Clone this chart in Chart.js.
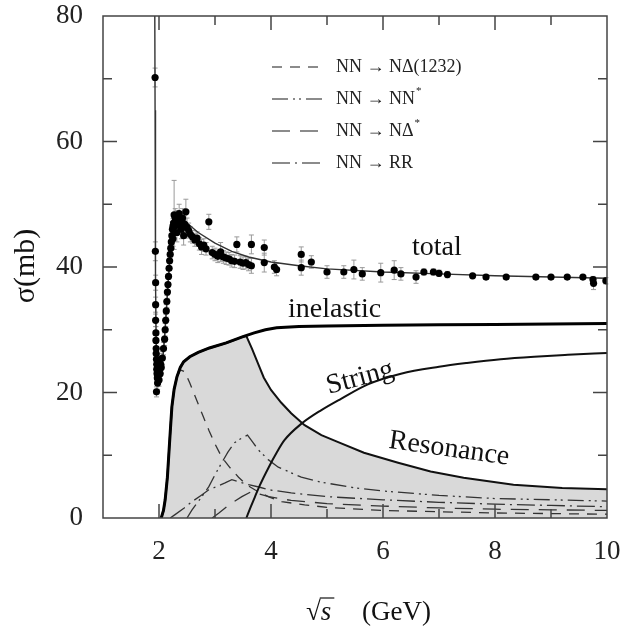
<!DOCTYPE html>
<html>
<head>
<meta charset="utf-8">
<script src="https://cdn.jsdelivr.net/npm/chart.js@4.4.0/dist/chart.umd.min.js"></script>
<style>
  html, body { margin: 0; padding: 0; background: #fff; }
  #wrap { width: 622px; height: 637px; }
</style>
</head>
<body>
<div id="wrap"><canvas id="c"></canvas></div>
<script>
// measured data points (sqrt(s) in GeV, sigma in mb, error)
const ptX = [1.93,1.935,1.94,1.94,1.94,1.945,1.945,1.95,1.95,1.955,
  1.96,1.96,1.965,1.97,1.975,1.955,1.98,1.99,2.0,2.01,
  2.02,2.03,2.04,2.06,2.08,2.1,2.11,2.12,2.13,2.14,
  2.15,2.16,2.17,2.18,2.19,2.2,2.21,2.22,2.23,2.24,
  2.25,2.25,2.26,2.27,2.29,2.3,2.32,2.33,2.35,2.36,
  2.38,2.4,2.42,2.44,2.46,2.48,2.5,2.53,2.56,2.6,
  2.64,2.68,2.72,2.76,2.8,2.84,2.89,2.95,3.0,3.05,
  3.1,3.15,3.2,3.25,3.3,3.35,3.39,3.45,3.5,3.55,
  3.6,3.65,3.65,3.88,3.88,4.06,4.1,4.54,4.54,4.72,
  5.0,5.3,5.48,5.63,5.96,6.2,6.32,6.59,6.73,6.9,
  7.0,7.15,7.6,7.84,8.2,8.73,9.0,9.29,9.57,9.75,
  9.76,9.98];
const ptY = [70.2,42.5,37.5,34.0,31.5,29.5,28.3,27.0,26.2,25.3,
  24.5,23.7,23.0,22.3,21.5,20.1,22.8,24.0,22.0,25.2,
  23.0,24.5,24.0,25.5,27.0,28.5,30.0,31.5,33.0,34.5,
  36.0,37.2,38.5,39.8,41.0,42.0,43.0,44.0,45.0,46.0,
  44.5,46.5,47.0,48.3,47.8,46.6,45.5,47.5,46.8,48.5,
  47.2,46.0,47.8,45.0,46.8,48.8,46.3,45.8,45.2,44.8,
  44.3,44.6,43.7,43.2,43.5,42.9,47.2,42.3,42.0,41.7,
  42.4,41.6,41.4,41.3,41.0,40.9,43.6,40.8,40.6,40.7,
  40.4,43.6,40.2,43.1,40.7,40.0,39.6,42.0,39.9,40.8,
  39.2,39.2,39.6,38.9,39.1,39.5,38.9,38.4,39.2,39.2,
  39.0,38.8,38.6,38.4,38.4,38.4,38.4,38.4,38.4,38.0,
  37.4,37.8];
const ptErr = [1.5,1.5,1.2,1.2,1.0,1.0,1.0,1.0,1.0,1.0,
  1.0,1.0,1.0,1.0,1.0,0.8,1.0,1.0,1.0,1.0,
  1,1,1,1,1,1,1,1,1,1,
  1,1,1,1,1,1,1,1,1,1.2,
  1.2,1.2,1.5,5.5,1.5,1.5,1.5,1.5,1.5,1.5,
  1.5,1.5,1.5,1.5,1.5,2.0,1.5,1.2,1.2,1.0,
  1.0,1.0,1.0,1.2,1.0,1.0,1.2,1.0,1.0,1.0,
  1.5,1.0,1.0,1.0,1.0,1.0,1.2,1.0,1.0,1.0,
  1.0,1.5,1.2,1.2,1.5,1.0,1.0,1.2,1.2,1.0,
  1.0,1.0,1.5,1.0,1.5,1.5,1.0,1.0,0.5,0.5,
  0.5,0.5,0.3,0.3,0.3,0.3,0.3,0.3,0.3,0.5,
  1.0,0.5];

// model curves
const totX = [1.925,1.93,1.935,1.94,1.95,1.97,2.0,2.04,2.08,2.12,2.16,2.2,2.25,2.3,2.4,2.5,2.7,3.0,3.3,3.6,4.0,4.5,5,6,7,8,9,10];
const totY = [80,65,50,38,28,23,21.5,23.5,26.5,31.5,37,42,46,47.5,48,47,45.5,43.8,42.5,41.6,40.8,40.2,39.7,39.2,38.9,38.6,38.4,38.2];

const inelX = [2.04,2.08,2.11,2.15,2.18,2.21,2.23,2.27,2.32,2.38,2.44,2.55,2.7,2.9,3.2,3.5,3.7,3.9,4.1,4.5,5,6,7,8,9,10];
const inelY = [0,1.2,2.9,6.5,10.8,15,17.7,20.5,22.5,24,24.9,25.7,26.4,27.1,27.9,28.9,29.5,30.0,30.3,30.5,30.6,30.7,30.8,30.85,30.9,31.0];

const resX = [2.04,2.08,2.11,2.15,2.18,2.21,2.23,2.27,2.32,2.38,2.44,2.55,2.7,2.9,3.2,3.5,3.56,3.66,3.76,3.87,4.0,4.18,4.36,4.6,4.9,5.2,5.66,6.27,6.85,7.44,8.33,9.2,10];
const resY = [0,1.2,2.9,6.5,10.8,15,17.7,20.5,22.5,24,24.9,25.7,26.4,27.1,27.9,28.9,29.0,27.0,24.8,22.4,20.4,18.4,16.7,14.8,13.2,12.1,10.4,8.8,7.4,6.4,5.3,4.8,4.6];

const strX = [3.56,3.64,3.71,3.8,3.96,4.1,4.24,4.54,4.9,5.25,5.73,6.32,7.0,7.5,8.1,8.7,9.3,10];
const strY = [0,1.8,3.3,5.2,8.1,10.4,12.4,15.0,17.2,19.0,21.3,23.0,24.1,24.7,25.3,25.7,26.0,26.3];

const deltaX = [2.04,2.08,2.11,2.15,2.18,2.21,2.23,2.27,2.32,2.38,2.46,2.55,2.65,2.77,2.89,3.0,3.12,3.27,3.42,3.56,3.71,3.95,4.19,4.6,5,6,7,8,9,10];
const deltaY = [0,1.2,2.9,6.5,10.8,15,17.7,20.5,22.4,23.6,23.3,21.5,19.3,16.6,14.0,11.8,9.7,8.0,6.5,5.3,4.5,3.4,2.6,2.1,1.7,1.2,1.0,0.8,0.7,0.6];

const nstarX = [2.5,2.59,2.75,2.89,3.0,3.12,3.23,3.35,3.47,3.58,3.68,3.78,3.95,4.13,4.54,4.9,5.5,6,7,8,9,10];
const nstarY = [0,1.3,3.2,5.0,6.9,8.8,10.5,12.0,12.7,13.2,12.0,10.8,9.3,8.1,6.5,5.7,4.8,4.3,3.6,3.1,2.9,2.7];

const rrX = [2.2,2.28,2.45,2.59,2.75,2.89,3.05,3.18,3.3,3.45,3.6,3.8,3.96,4.36,5,6,7,8,9,10];
const rrY = [0,0.5,1.6,2.6,3.6,4.5,5.1,5.6,6.1,5.7,5.3,4.9,4.5,4.0,3.4,2.9,2.5,2.2,2.0,1.8];

const dstarX = [2.95,3.07,3.25,3.48,3.65,3.8,3.96,4.36,5,6,7,8,9,10];
const dstarY = [0,0.8,2.1,3.4,4.2,3.8,3.4,2.8,2.3,1.9,1.6,1.4,1.3,1.2];

const xTicks = [2, 4, 6, 8, 10];
const yTicks = [0, 20, 40, 60, 80];

const legendItems = [
  { pre: 'NN \u2192 N\u0394(1232)', sup: '', dash: [10, 8] },
  { pre: 'NN \u2192 NN', sup: '*', dash: [16, 5, 2, 4, 2, 5] },
  { pre: 'NN \u2192 N\u0394', sup: '*', dash: [18, 10] },
  { pre: 'NN \u2192 RR', sup: '', dash: [18, 5, 2, 5] }
];

const pts = (xs, ys) => xs.map((x, i) => ({ x: x, y: ys[i] }));
const SERIF = '"Liberation Serif", "DejaVu Serif", serif';

const decor = {
  id: 'decor',
  beforeDatasetsDraw(chart) {
    const ctx = chart.ctx, sx = chart.scales.x, sy = chart.scales.y;
    ctx.save();
    ctx.strokeStyle = '#9a9a9a';
    ctx.lineWidth = 1;
    ptX.forEach((x, i) => {
      const px = sx.getPixelForValue(x);
      const y1 = sy.getPixelForValue(ptY[i] - ptErr[i]);
      const y2 = sy.getPixelForValue(ptY[i] + ptErr[i]);
      ctx.beginPath();
      ctx.moveTo(px, y1); ctx.lineTo(px, y2);
      ctx.moveTo(px - 2.5, y1); ctx.lineTo(px + 2.5, y1);
      ctx.moveTo(px - 2.5, y2); ctx.lineTo(px + 2.5, y2);
      ctx.stroke();
    });
    ctx.restore();
  },
  afterDraw(chart) {
    const ctx = chart.ctx, sx = chart.scales.x, sy = chart.scales.y, a = chart.chartArea;
    ctx.save();
    // frame + inward ticks
    ctx.strokeStyle = '#444';
    ctx.lineWidth = 1.5;
    ctx.strokeRect(a.left, a.top, a.right - a.left, a.bottom - a.top);
    ctx.beginPath();
    for (let v = 2; v < 10; v++) {
      const px = sx.getPixelForValue(v), len = v % 2 === 0 ? 14 : 9;
      ctx.moveTo(px, a.bottom); ctx.lineTo(px, a.bottom - len);
      ctx.moveTo(px, a.top); ctx.lineTo(px, a.top + len);
    }
    for (let v = 10; v < 80; v += 10) {
      const py = sy.getPixelForValue(v), len = v % 20 === 0 ? 14 : 9;
      ctx.moveTo(a.left, py); ctx.lineTo(a.left + len, py);
      ctx.moveTo(a.right, py); ctx.lineTo(a.right - len, py);
    }
    ctx.stroke();

    // legend
    ctx.strokeStyle = '#666';
    ctx.lineWidth = 1.6;
    ctx.fillStyle = '#222';
    ctx.textBaseline = 'middle';
    legendItems.forEach((it, i) => {
      const y = 67 + i * 32;
      ctx.setLineDash(it.dash);
      ctx.beginPath(); ctx.moveTo(272, y); ctx.lineTo(325, y); ctx.stroke();
      ctx.setLineDash([]);
      ctx.font = '18px ' + SERIF;
      ctx.fillText(it.pre, 336, y);
      if (it.sup) {
        const w = ctx.measureText(it.pre).width;
        ctx.font = '11px ' + SERIF;
        ctx.fillText(it.sup, 336 + w + 1, y - 8);
      }
    });

    // curve labels
    ctx.fillStyle = '#111';
    ctx.textBaseline = 'alphabetic';
    ctx.font = '28px ' + SERIF;
    ctx.fillText('total', 412, 255);
    ctx.fillText('inelastic', 288, 317);
    ctx.save();
    ctx.translate(360, 378); ctx.rotate(-15 * Math.PI / 180);
    ctx.textAlign = 'center'; ctx.textBaseline = 'middle';
    ctx.fillText('String', 0, 0);
    ctx.restore();
    ctx.save();
    ctx.translate(449, 449); ctx.rotate(8 * Math.PI / 180);
    ctx.textAlign = 'center'; ctx.textBaseline = 'middle';
    ctx.fillText('Resonance', 0, 0);
    ctx.restore();

    // axis titles
    ctx.save();
    ctx.translate(26, 266); ctx.rotate(-Math.PI / 2);
    ctx.textAlign = 'center'; ctx.textBaseline = 'middle';
    ctx.font = '30px ' + SERIF;
    ctx.fillText('\u03c3(mb)', 0, 0);
    ctx.restore();

    ctx.font = '27px ' + SERIF;
    ctx.fillText('\u221a', 306, 620);
    const rw = ctx.measureText('\u221a').width;
    ctx.font = 'italic 27px ' + SERIF;
    ctx.fillText('s', 306 + rw, 620);
    const sw = ctx.measureText('s').width;
    ctx.lineWidth = 1.2; ctx.strokeStyle = '#111';
    ctx.beginPath(); ctx.moveTo(306 + rw - 1, 598); ctx.lineTo(306 + rw + sw + 3, 598); ctx.stroke();
    ctx.font = '27px ' + SERIF;
    ctx.fillText('(GeV)', 362, 620);
    ctx.restore();
  }
};

const lineDs = (label, xs, ys, extra) => Object.assign({
  label: label, data: pts(xs, ys), borderColor: '#111', borderWidth: 2,
  pointRadius: 0, tension: 0, fill: false, order: 1
}, extra);

new Chart(document.getElementById('c'), {
  type: 'line',
  data: {
    datasets: [
      { label: 'data', data: pts(ptX, ptY), showLine: false, pointRadius: 3.6,
        pointBackgroundColor: '#000', pointBorderWidth: 0, order: 0 },
      lineDs('total', totX, totY, { borderColor: '#333', borderWidth: 1.4 }),
      lineDs('inelastic', inelX, inelY, { borderColor: '#000', borderWidth: 3 }),
      lineDs('String', strX, strY, { cubicInterpolationMode: 'monotone' }),
      lineDs('NN->NDelta(1232)', deltaX, deltaY, { borderColor: '#333', borderWidth: 1.3, borderDash: legendItems[0].dash, order: 2 }),
      lineDs('NN->NN*', nstarX, nstarY, { borderColor: '#333', borderWidth: 1.3, borderDash: legendItems[1].dash, order: 2 }),
      lineDs('NN->NDelta*', dstarX, dstarY, { borderColor: '#333', borderWidth: 1.3, borderDash: legendItems[2].dash, order: 2 }),
      lineDs('NN->RR', rrX, rrY, { borderColor: '#333', borderWidth: 1.3, borderDash: legendItems[3].dash, order: 2 }),
      lineDs('Resonance', resX, resY, { fill: 'origin', backgroundColor: '#d9d9d9', order: 3 })
    ]
  },
  options: {
    responsive: true,
    maintainAspectRatio: false,
    animation: false,
    layout: { padding: { top: 16, right: 15, left: 0, bottom: 0 } },
    plugins: { legend: { display: false }, tooltip: { enabled: false } },
    scales: {
      x: {
        type: 'linear', min: 1, max: 10,
        afterBuildTicks: s => { s.ticks = xTicks.map(v => ({ value: v })); },
        afterFit: s => { s.height = 119; s.paddingLeft = 0; s.paddingRight = 0; },
        grid: { display: false, drawTicks: false },
        border: { display: false },
        ticks: { padding: 18, maxRotation: 0, autoSkip: false, color: '#222', font: { family: SERIF, size: 27 } }
      },
      y: {
        min: 0, max: 80,
        afterBuildTicks: s => { s.ticks = yTicks.map(v => ({ value: v })); },
        afterFit: s => { s.width = 103; s.paddingTop = 0; s.paddingBottom = 0; },
        grid: { display: false, drawTicks: false },
        border: { display: false },
        ticks: { padding: 20, color: '#222', font: { family: SERIF, size: 27 } }
      }
    }
  },
  plugins: [decor]
});
</script>
</body>
</html>
